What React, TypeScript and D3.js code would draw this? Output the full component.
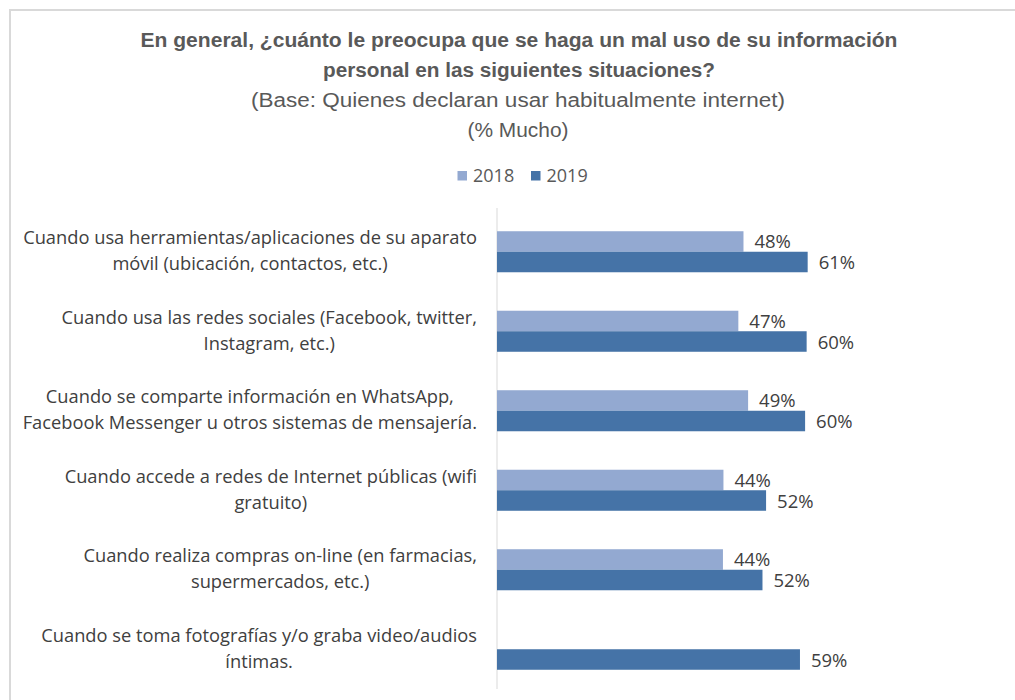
import React, { useMemo } from 'react';
import * as d3 from 'd3';

const categories: string[][] = [
  ['Cuando usa herramientas/aplicaciones de su aparato', 'móvil (ubicación, contactos, etc.)'],
  ['Cuando usa las redes sociales (Facebook, twitter,', 'Instagram, etc.)'],
  ['Cuando se comparte información en WhatsApp,', 'Facebook Messenger u otros sistemas de mensajería.'],
  ['Cuando accede a redes de Internet públicas (wifi', 'gratuito)'],
  ['Cuando realiza compras on-line (en farmacias,', 'supermercados, etc.)'],
  ['Cuando se toma fotografías y/o graba video/audios', 'íntimas.'],
];
const seriesNames = ['2018', '2019'];
const values2018: (number | null)[] = [48.0, 47.0, 48.9, 44.1, 44.0, null];
const values2019: (number | null)[] = [60.5, 60.3, 60.0, 52.4, 51.7, 59.0];
const titleLines = [
  'En general, ¿cuánto le preocupa que se haga un mal uso de su información',
  'personal en las siguientes situaciones?',
];
const subtitleLines = ['(Base: Quienes declaran usar habitualmente internet)', '(% Mucho)'];

const W = 1015;
const H = 700;
const colors = ['#93A9D1', '#4573A7'];
const textFont = "'Open Sans', sans-serif";
const labelSize = 18.3;

function measure(text: string, font: string): number {
  const c = document.createElement('canvas');
  const ctx = c.getContext('2d');
  if (!ctx) return text.length * 8;
  ctx.font = font;
  return ctx.measureText(text).width;
}

export default function App() {
  const x = d3.scaleLinear().domain([0, 100]).range([497, 497 + 513.5]);
  const y = d3
    .scaleBand<number>()
    .domain(categories.map((_, i) => i))
    .range([212, 689])
    .paddingInner(0.484)
    .paddingOuter(0.242);
  const sub = d3.scaleBand<string>().domain(seriesNames).range([0, y.bandwidth()]);
  const series = [values2018, values2019];

  const blockWidths = useMemo(
    () =>
      categories.map((lines) =>
        Math.max(...lines.map((l) => measure(l, `${labelSize}px 'Open Sans'`)))
      ),
    []
  );
  const labelRight = 477;
  const fmt = (v: number) => `${Math.round(v)}%`;

  return (
    <svg
      width={W}
      height={H}
      style={{ position: 'absolute', left: 0, top: 0, background: '#fff' }}
    >
      <rect x={0} y={0} width={W} height={H} fill="#fff" />
      <line x1={10} y1={10} x2={W} y2={10} stroke="#d9d9d9" strokeWidth={2} />
      <line x1={10} y1={9} x2={10} y2={H} stroke="#d9d9d9" strokeWidth={2} />

      {titleLines.map((t, i) => (
        <text
          key={'t' + i}
          x={519}
          y={47 + i * 30}
          textAnchor="middle"
          fontFamily="'Liberation Sans', Arial, sans-serif"
          fontWeight="bold"
          fontSize={20}
          fill="#595959"
          textLength={i === 0 ? 757 : 392}
          lengthAdjust="spacingAndGlyphs"
        >
          {t}
        </text>
      ))}
      {subtitleLines.map((t, i) => (
        <text
          key={'s' + i}
          x={518}
          y={107 + i * 29.5}
          textAnchor="middle"
          fontFamily="'Liberation Sans', Arial, sans-serif"
          fontSize={20}
          fill="#595959"
          textLength={i === 0 ? 534 : 101}
          lengthAdjust="spacingAndGlyphs"
        >
          {t}
        </text>
      ))}

      {seriesNames.map((s, i) => (
        <g key={'lg' + s} transform={`translate(${457.5 + i * 73.5},0)`}>
          <rect x={0} y={171} width={9.5} height={9.5} fill={colors[i]} />
          <text x={15.5} y={181.5} fontFamily={textFont} fontSize={18} fill="#595959">
            {s}
          </text>
        </g>
      ))}

      <line
        x1={x(0)}
        x2={x(0)}
        y1={y.range()[0] - 4}
        y2={y.range()[1]}
        stroke="#d9d9d9"
        strokeWidth={1}
      />

      {categories.map((lines, ci) => {
        const c = (y(ci) as number) + y.bandwidth() / 2;
        const cx = labelRight - blockWidths[ci] / 2;
        return (
          <g key={'c' + ci}>
            {lines.map((l, li) => (
              <text
                key={li}
                x={cx}
                y={c + (li - 0.5) * 26 + 5.5}
                textAnchor="middle"
                fontFamily={textFont}
                fontSize={labelSize}
                fill="#404040"
              >
                {l}
              </text>
            ))}
            {series.map((vals, si) => {
              const v = vals[ci];
              if (v == null) return null;
              const by = (y(ci) as number) + (sub(seriesNames[si]) as number);
              return (
                <g key={'b' + si}>
                  <rect
                    x={x(0)}
                    y={by}
                    width={x(v) - x(0)}
                    height={sub.bandwidth()}
                    fill={colors[si]}
                  />
                  <text
                    x={x(v) + 11}
                    y={by + sub.bandwidth() / 2 + 7}
                    fontFamily={textFont}
                    fontSize={18.5}
                    fill="#404040"
                  >
                    {fmt(v)}
                  </text>
                </g>
              );
            })}
          </g>
        );
      })}
    </svg>
  );
}
